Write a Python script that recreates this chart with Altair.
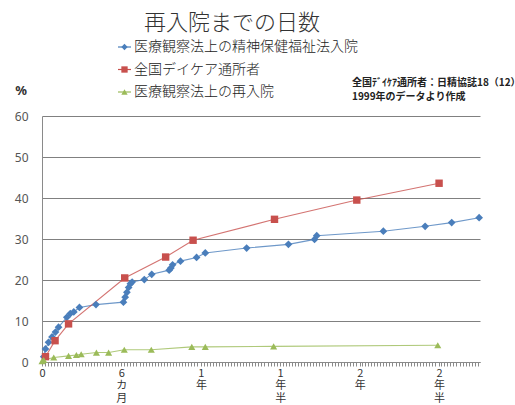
import altair as alt
import pandas as pd

FONT = "Noto Sans CJK JP"

series_names = ["医療観察法上の精神保健福祉法入院", "全国デイケア通所者", "医療観察法上の再入院"]
series_colors = ["#4A7EBB", "#C8504D", "#9BBB59"]
series_shapes = ["diamond", "square", "triangle-up"]
series_sizes = [60, 50, 50]

# days since discharge, cumulative readmission rate (%)
blue_days = [4, 8, 15, 23, 31, 38, 57, 65, 73, 86, 124, 187, 191, 195, 199, 203, 207,
             235, 252, 292, 296, 300, 318, 355, 375, 470, 566, 626, 631, 784, 880, 941, 1004]
blue_vals = [1.3, 3.2, 4.8, 6.1, 7.3, 8.5, 10.9, 11.8, 12.2, 13.3, 14.0, 14.6, 15.8, 17.0,
             18.2, 19.1, 19.5, 20.1, 21.4, 22.4, 22.9, 23.7, 24.6, 25.5, 26.6, 27.8, 28.7,
             29.9, 30.8, 31.9, 33.1, 34.0, 35.2]
red_days = [8, 30, 61, 190, 284, 347, 534, 723, 912]
red_vals = [1.3, 5.2, 9.3, 20.5, 25.6, 29.7, 34.8, 39.5, 43.6]
green_days = [0, 4, 27, 61, 79, 90, 125, 153, 189, 251, 344, 375, 532, 909]
green_vals = [0.2, 0.5, 1.1, 1.5, 1.7, 1.9, 2.3, 2.3, 3.0, 3.0, 3.7, 3.7, 3.8, 4.1]

tick_days = [0, 182, 365, 547, 730, 912]
tick_labels = ["0", "6カ月", "1年", "1年半", "2年", "2年半"]
y_ticks = [0, 10, 20, 30, 40, 50, 60]

title_text = "再入院までの日数"
note_lines = ["全国ﾃﾞｲｹｱ通所者：日精協誌18（12）", "1999年のデータより作成"]

rows = []
for name, days, vals in zip(series_names, [blue_days, red_days, green_days],
                            [blue_vals, red_vals, green_vals]):
    for d, v in zip(days, vals):
        rows.append({"series": name, "day": d, "value": v})
df = pd.DataFrame(rows)

# dense minor ticks along the time axis, labelled only at the named points
minor = [d for d in range(0, 1006, 7) if all(abs(d - t) > 3 for t in tick_days)]
axis_values = sorted(minor + tick_days)
expr = "''"
for d, lab in reversed(list(zip(tick_days, tick_labels))):
    chars = ",".join("'" + c + "'" for c in lab)
    expr = f"datum.value == {d} ? [{chars}] : {expr}"

color_scale = alt.Scale(domain=series_names, range=series_colors)
shape_scale = alt.Scale(domain=series_names, range=series_shapes)

x_enc = alt.X(
    "day:Q",
    scale=alt.Scale(domain=[0, 1006], nice=False, zero=True),
    axis=alt.Axis(values=axis_values, labelExpr=expr, tickSize=4, tickColor="#8a8a8a",
                  domainColor="#8a8a8a", grid=False, title=None, labelOverlap=False,
                  labelFlush=False, labelFont=FONT, labelFontSize=11, labelLineHeight=12.5,
                  labelPadding=1, labelColor="#333"),
)
y_enc = alt.Y(
    "value:Q",
    scale=alt.Scale(domain=[0, 60], nice=False),
    axis=alt.Axis(values=y_ticks, grid=True, gridColor="#808080", gridWidth=1,
                  ticks=False, domainColor="#8a8a8a", labelPadding=14, title=None,
                  labelFont="Noto Sans", labelFontSize=12, labelColor="#555"),
)

base = alt.Chart(df)
lines = base.mark_line(strokeWidth=1.1, opacity=0.8).encode(
    x=x_enc, y=y_enc,
    color=alt.Color("series:N", scale=color_scale, legend=None),
    detail="series:N",
)
points = base.mark_point(filled=True, opacity=1).encode(
    x=x_enc, y=y_enc,
    color=alt.Color("series:N", scale=color_scale, legend=None),
    shape=alt.Shape("series:N", scale=shape_scale, legend=None),
    size=alt.Size("series:N", scale=alt.Scale(domain=series_names, range=series_sizes), legend=None),
)
main = alt.layer(lines, points)

# legend block above the plot
leg_df = pd.DataFrame({"series": series_names})
leg_y = alt.Y("series:N", scale=alt.Scale(type="point", domain=series_names,
                                          range=[-69, -24], padding=0), axis=None)
leg_base = alt.Chart(leg_df)
leg_rule = leg_base.mark_rule(strokeWidth=1.2).encode(
    x=alt.value(76), x2=alt.value(89), y=leg_y,
    color=alt.Color("series:N", scale=color_scale, legend=None),
)
leg_pt = leg_base.mark_point(filled=True, opacity=1).encode(
    x=alt.value(82.5), y=leg_y,
    color=alt.Color("series:N", scale=color_scale, legend=None),
    shape=alt.Shape("series:N", scale=shape_scale, legend=None),
    size=alt.value(40),
)
leg_text = leg_base.mark_text(align="left", baseline="middle", font=FONT, fontSize=14,
                              fontWeight=300, color="#222").encode(
    x=alt.value(92), y=leg_y, text="series:N",
)
legend = alt.layer(leg_rule, leg_pt, leg_text)

title = alt.Chart(pd.DataFrame({"t": [title_text]})).mark_text(
    align="center", baseline="middle", font=FONT, fontSize=22, fontWeight=300, color="#333"
).encode(x=alt.value(190), y=alt.value(-93), text="t:N")

pct = alt.Chart(pd.DataFrame({"t": ["%"]})).mark_text(
    align="center", baseline="middle", font="Noto Sans", fontSize=13, fontWeight="bold",
    color="#333"
).encode(x=alt.value(-21), y=alt.value(-25), text="t:N")

note1 = alt.Chart(pd.DataFrame({"t": [note_lines[0]]})).mark_text(
    align="left", baseline="middle", font=FONT, fontSize=10, fontWeight="bold", color="#222"
).encode(x=alt.value(310), y=alt.value(-33), text="t:N")
note2 = alt.Chart(pd.DataFrame({"t": [note_lines[1]]})).mark_text(
    align="left", baseline="middle", font=FONT, fontSize=10, fontWeight="bold", color="#222"
).encode(x=alt.value(310), y=alt.value(-19), text="t:N")

chart = alt.layer(main, legend, title, pct, note1, note2).resolve_scale(
    y="independent"
).properties(
    width=438,
    height=246,
    autosize=alt.AutoSizeParams(type="none"),
    padding={"left": 42, "top": 116, "right": 35, "bottom": 43},
    background="white",
).configure_view(stroke=None)

chart.save("out.html", embed_options={"renderer": "svg", "actions": False})
